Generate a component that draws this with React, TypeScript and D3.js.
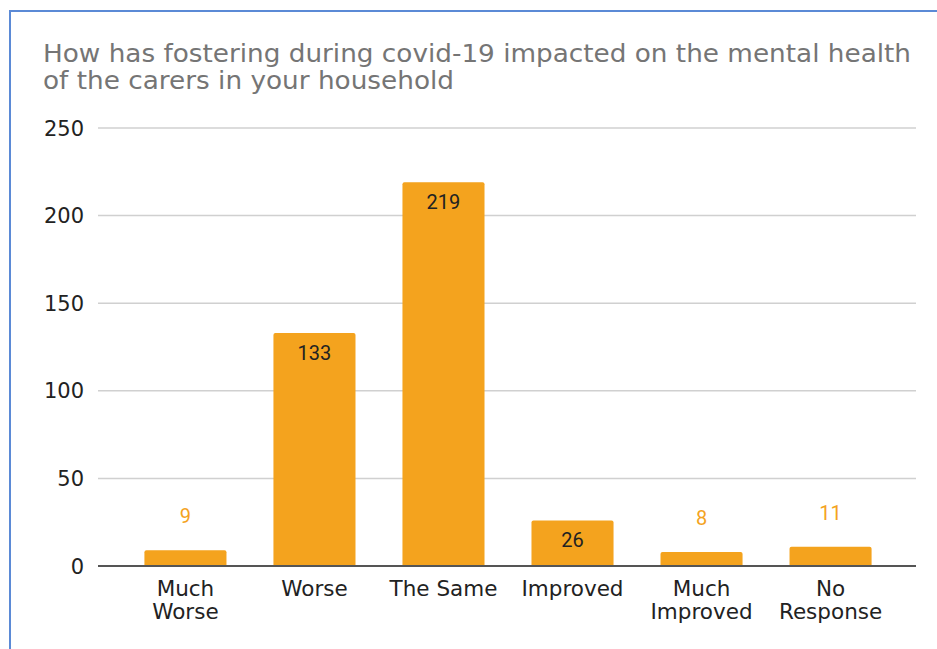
import React from "react";
import * as d3 from "d3";

const categories = ["Much Worse", "Worse", "The Same", "Improved", "Much Improved", "No Response"];
const categoryLines = [["Much", "Worse"], ["Worse"], ["The Same"], ["Improved"], ["Much", "Improved"], ["No", "Response"]];
const values = [9, 133, 219, 26, 8, 11];
const yTicks = [0, 50, 100, 150, 200, 250];
const titleLines = [
  "How has fostering during covid-19 impacted on the mental health",
  "of the carers in your household",
];

const W = 937;
const H = 649;
const FONT = "'DejaVu Sans', Verdana, sans-serif";

export default function App() {
  const x = d3
    .scaleBand<string>()
    .domain(categories)
    .range([99, 917])
    .paddingInner(0.364)
    .paddingOuter(0.352);
  const y = d3.scaleLinear().domain([0, 250]).range([566, 128]);
  const bw = x.bandwidth();

  return (
    <svg
      width={W}
      height={H}
      style={{ position: "absolute", left: 0, top: 0, background: "#fff" }}
      fontFamily={FONT}
    >
      <rect x={0} y={0} width={W} height={H} fill="#fff" />
      <path d={`M10,${H} V11 H${W}`} fill="none" stroke="#5b8ad6" strokeWidth={2} />
      {titleLines.map((t, i) => (
        <text
          key={i}
          x={43}
          y={62 + i * 27}
          fontSize={24.5}
          fill="#757575"
          textLength={i === 0 ? 868 : 411}
          lengthAdjust="spacingAndGlyphs"
        >
          {t}
        </text>
      ))}
      {yTicks.map((t) => (
        <g key={t}>
          {t !== 0 && (
            <line x1={98} x2={916} y1={y(t)} y2={y(t)} stroke="#d0d0d0" strokeWidth={1.5} />
          )}
          <text x={84} y={y(t)} dy="0.36em" textAnchor="end" fontSize={21} fill="#222">
            {t}
          </text>
        </g>
      ))}
      {categories.map((c, i) => {
        const x0 = x(c)!;
        const v = values[i];
        const top = y(v);
        const h = y(0) - top;
        const inside = h > 40;
        return (
          <g key={c}>
            <path
              d={`M${x0},${y(0)} V${top + 2} Q${x0},${top} ${x0 + 2},${top} H${x0 + bw - 2} Q${x0 + bw},${top} ${x0 + bw},${top + 2} V${y(0)} Z`}
              fill="#f4a31e"
            />
            <text
              x={x0 + bw / 2}
              y={inside ? top + 27 : top - 27}
              textAnchor="middle"
              fontSize={20}
              fontFamily="Roboto, sans-serif"
              fill={inside ? "#222" : "#f4a31e"}
            >
              {v}
            </text>
          </g>
        );
      })}
      <line x1={98} x2={916} y1={y(0)} y2={y(0)} stroke="#555" strokeWidth={2} />
      {categories.map((c, i) => (
        <text key={c} textAnchor="middle" fontSize={21.5} fill="#222">
          {categoryLines[i].map((l, j) => (
            <tspan key={j} x={x(c)! + bw / 2} y={596 + j * 23}>
              {l}
            </tspan>
          ))}
        </text>
      ))}
    </svg>
  );
}
